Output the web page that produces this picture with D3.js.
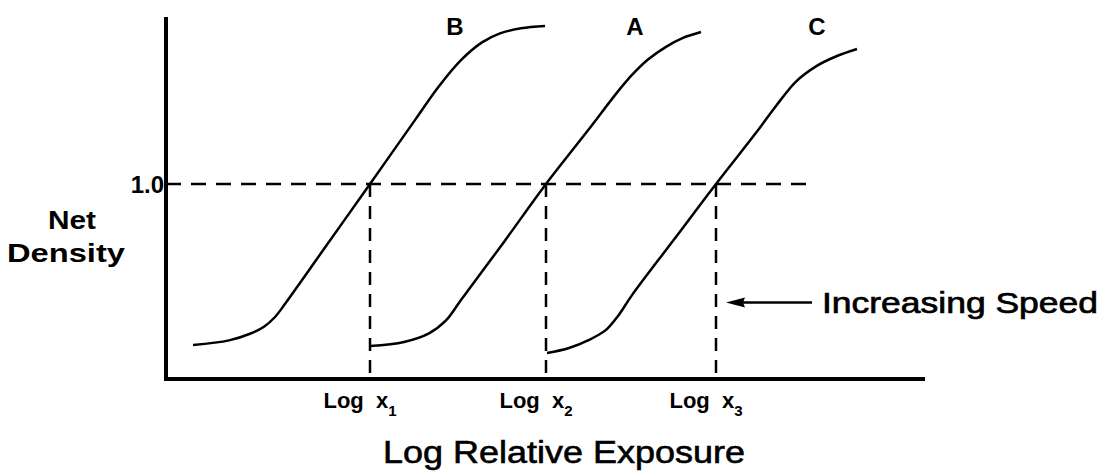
<!DOCTYPE html>
<html>
<head>
<meta charset="utf-8">
<script src="https://cdn.jsdelivr.net/npm/d3@7"></script>
<style>
  body { margin: 0; background: #fff; }
  text { font-family: "Liberation Sans", Arial, sans-serif; fill: #000; }
</style>
</head>
<body>
<div id="chart"></div>
<script>
// curves as [log exposure, net density]
var curveB = [[0.27,0.174],[0.63,0.198],[0.84,0.232],[0.98,0.268],[1.09,0.318],[1.20,0.392],
  [1.62,0.696],[2.04,1.000],[2.50,1.335],[2.72,1.495],[2.95,1.635],[3.16,1.726],[3.34,1.772],[3.55,1.798],[3.79,1.810]];
var curveA = [[2.04,0.169],[2.38,0.190],[2.63,0.234],[2.80,0.300],[2.95,0.405],
  [3.38,0.703],[3.80,1.000],[4.22,1.275],[4.50,1.462],[4.66,1.559],[4.82,1.638],[5.00,1.703],[5.17,1.749],[5.35,1.779]];
var curveC = [[3.81,0.133],[4.03,0.159],[4.22,0.198],[4.40,0.252],[4.53,0.330],[4.66,0.430],
  [5.08,0.715],[5.50,1.000],[5.90,1.262],[6.10,1.400],[6.30,1.525],[6.50,1.603],[6.71,1.656],[6.91,1.692]];
var curveNames = ["B", "A", "C"];
var curveLabelPos = [[2.89,1.81],[4.69,1.81],[6.51,1.81]];
var speedX = [2.04, 3.80, 5.50];      // Log x1, x2, x3
var speedSub = ["1", "2", "3"];
var refDensity = 1.0;
var refLabel = "1.0";
var xMax = 7.59, yMax = 1.856, refEnd = 6.42;
var arrowY = 0.392, arrowEnd = 6.46;

var width = 1115, height = 474;
var svg = d3.select("#chart").append("svg")
  .attr("width", width).attr("height", height);

var x = d3.scaleLinear().domain([0, xMax]).range([166, 925]);
var y = d3.scaleLinear().domain([0, yMax]).range([379, 17]);

// axes (plain L shape)
svg.append("path")
  .attr("d", "M" + x(0) + "," + y(yMax) + "V" + y(0) + "H" + x(xMax))
  .attr("fill", "none").attr("stroke", "#000").attr("stroke-width", 4);

// reference density dashed line
svg.append("line")
  .attr("x1", x(0)).attr("x2", x(refEnd))
  .attr("y1", y(refDensity)).attr("y2", y(refDensity))
  .attr("stroke", "#000").attr("stroke-width", 2.5)
  .attr("stroke-dasharray", "15,10");

svg.selectAll(".vdash").data(speedX).enter().append("line")
  .attr("class", "vdash")
  .attr("x1", d => x(d)).attr("x2", d => x(d))
  .attr("y1", y(refDensity)).attr("y2", y(0))
  .attr("stroke", "#000").attr("stroke-width", 2.5)
  .attr("stroke-dasharray", "13,9");

// curves
var line = d3.line().x(d => x(d[0])).y(d => y(d[1])).curve(d3.curveCatmullRom.alpha(0.5));
svg.selectAll(".curve").data([curveB, curveA, curveC]).enter().append("path")
  .attr("class", "curve")
  .attr("d", line)
  .attr("fill", "none").attr("stroke", "#000").attr("stroke-width", 2.5);

svg.selectAll(".clab").data(curveNames).enter().append("text")
  .attr("class", "clab")
  .attr("x", (d, i) => x(curveLabelPos[i][0]))
  .attr("y", (d, i) => y(curveLabelPos[i][1]) + 9)
  .attr("text-anchor", "middle")
  .attr("font-size", 24).attr("font-weight", "bold")
  .text(d => d);

// y label and tick
svg.append("text")
  .attr("x", 164).attr("y", y(refDensity) + 9)
  .attr("text-anchor", "end")
  .attr("font-size", 24).attr("font-weight", "bold")
  .text(refLabel);

svg.append("text").attr("x", 72).attr("y", 229)
  .attr("text-anchor", "middle").attr("font-size", 25).attr("font-weight", "bold")
  .attr("textLength", 48).attr("lengthAdjust", "spacingAndGlyphs")
  .text("Net");
svg.append("text").attr("x", 66).attr("y", 262)
  .attr("text-anchor", "middle").attr("font-size", 25).attr("font-weight", "bold")
  .attr("textLength", 118).attr("lengthAdjust", "spacingAndGlyphs")
  .text("Density");

// x tick labels
var ticks = svg.selectAll(".xlab").data(speedX).enter().append("text")
  .attr("class", "xlab")
  .attr("x", d => x(d) - 10)
  .attr("y", 408)
  .attr("text-anchor", "middle")
  .attr("font-size", 22).attr("font-weight", "bold");
ticks.append("tspan").text("Log\u00a0\u00a0x");
ticks.append("tspan").attr("dy", 8).attr("font-size", 15).text((d, i) => speedSub[i]);

svg.append("text")
  .attr("x", 564).attr("y", 463)
  .attr("text-anchor", "middle").attr("font-size", 31)
  .attr("textLength", 362).attr("lengthAdjust", "spacingAndGlyphs")
  .attr("stroke", "#000").attr("stroke-width", 0.6)
  .text("Log Relative Exposure");

// arrow for increasing speed
var ax = x(speedX[2]) + 10, ay = y(arrowY);
svg.append("path")
  .attr("d", "M" + ax + "," + ay + "L" + (ax + 19) + "," + (ay - 5) + "L" + (ax + 17) + "," + ay +
    "L" + (ax + 19) + "," + (ay + 5) + "Z")
  .attr("fill", "#000");
svg.append("line")
  .attr("x1", ax + 14).attr("x2", x(arrowEnd))
  .attr("y1", ay).attr("y2", ay)
  .attr("stroke", "#000").attr("stroke-width", 2.5);
svg.append("text")
  .attr("x", 822).attr("y", ay + 10)
  .attr("font-size", 29)
  .attr("textLength", 276).attr("lengthAdjust", "spacingAndGlyphs")
  .attr("stroke", "#000").attr("stroke-width", 0.7)
  .text("Increasing Speed");
</script>
</body>
</html>
